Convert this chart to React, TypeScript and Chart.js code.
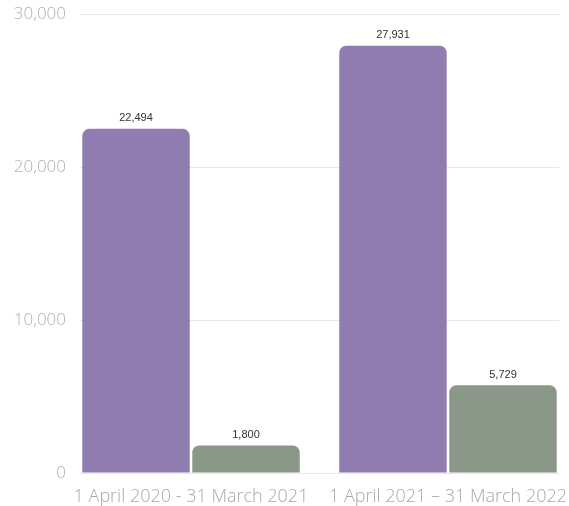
import React, { useEffect, useRef } from "react";
import { Chart, registerables } from "chart.js";

Chart.register(...registerables);

const categories = ["1 April 2020 - 31 March 2021", "1 April 2021 – 31 March 2022"];
const seriesA = [22494, 27931];
const seriesB = [1800, 5729];
const yTicks = [0, 10000, 20000, 30000];

const purple = "#917cb1";
const green = "#8a9887";

const valueLabels = {
  id: "valueLabels",
  afterDatasetsDraw(chart: any) {
    const ctx = chart.ctx;
    ctx.save();
    ctx.font = "11px 'Liberation Sans', Arial, sans-serif";
    ctx.fillStyle = "#333333";
    ctx.textAlign = "center";
    ctx.textBaseline = "bottom";
    chart.data.datasets.forEach((ds: any, di: number) => {
      const meta = chart.getDatasetMeta(di);
      meta.data.forEach((bar: any, i: number) => {
        const v = ds.data[i].y;
        ctx.fillText(v.toLocaleString("en-US"), bar.x, bar.y - 5);
      });
    });
    ctx.restore();
  },
};

export default function App() {
  const ref = useRef<HTMLCanvasElement>(null);
  useEffect(() => {
    const canvas = ref.current!;
    const chart = new Chart(canvas, {
      type: "bar",
      data: {
        datasets: [
          {
            data: seriesA.map((v, i) => ({ x: i + 1, y: v })),
            backgroundColor: purple,
            borderRadius: 7,
            categoryPercentage: 0.856,
            barPercentage: 0.977,
          },
          {
            data: seriesB.map((v, i) => ({ x: i + 1, y: v })),
            backgroundColor: green,
            borderRadius: 7,
            categoryPercentage: 0.856,
            barPercentage: 0.977,
          },
        ],
      },
      options: {
        responsive: false,
        animation: false,
        devicePixelRatio: 1,
        layout: { padding: { top: 14, right: 10, left: 0, bottom: 0 } },
        plugins: { legend: { display: false }, tooltip: { enabled: false } },
        scales: {
          x: {
            type: "linear",
            offset: false,
            min: 0.568,
            max: 2.432,
            grid: { display: false, offset: false },
            border: { display: false },
            afterBuildTicks: (axis: any) => {
              axis.ticks = categories.map((_, i) => ({ value: i + 1 }));
            },
            afterFit: (axis: any) => {
              axis.height = 33;
              axis.paddingLeft = 0;
              axis.paddingRight = 0;
            },
            ticks: {
              autoSkip: false,
              maxRotation: 0,
              minRotation: 0,
              padding: 5,
              color: "#a8a8a8",
              font: { family: "'Open Sans', sans-serif", size: 18, weight: "300" },
              callback: (v: any) => categories[Math.round(v) - 1] ?? "",
            },
          },
          y: {
            min: 0,
            max: 30000,
            afterBuildTicks: (axis: any) => {
              axis.ticks = yTicks.map((v) => ({ value: v }));
            },
            afterFit: (axis: any) => {
              axis.width = 80;
              axis.paddingTop = 0;
              axis.paddingBottom = 0;
            },
            grid: { color: "#e9e9e9", drawTicks: false, lineWidth: 1 },
            border: { display: false },
            ticks: {
              padding: 14,
              color: "#b0b0b0",
              font: { family: "'Open Sans', sans-serif", size: 17, weight: "300" },
              callback: (v: any) => Number(v).toLocaleString("en-US"),
            },
          },
        },
      },
      plugins: [valueLabels],
    });
    return () => chart.destroy();
  }, []);
  return (
    <div style={{ position: "absolute", left: 0, top: 0, width: 569, height: 506, background: "#fff" }}>
      <canvas ref={ref} width={569} height={506} style={{ width: 569, height: 506 }} />
    </div>
  );
}
